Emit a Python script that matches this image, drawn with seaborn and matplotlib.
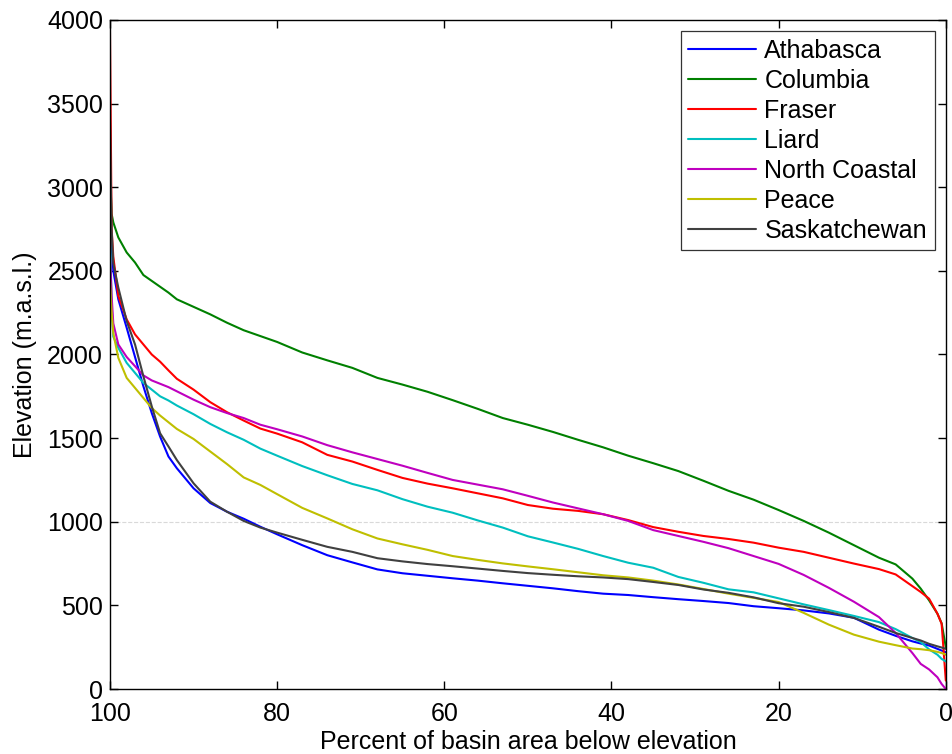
import matplotlib
matplotlib.use("Agg")
import matplotlib.pyplot as plt
import numpy as np
import pandas as pd
import seaborn as sns

# =========================================================
# Data
# =========================================================
pct = [100, 99.8, 99.6, 99, 98, 97, 96, 95, 94, 93, 92, 90, 88, 86, 84, 82, 80,
       77, 74, 71, 68, 65, 62, 59, 56, 53, 50, 47, 44, 41, 38, 35, 32, 29, 26,
       23, 20, 17, 14, 11, 8, 6, 4, 3, 2, 1, 0.5, 0]

athabasca = [3000, 2650, 2500, 2330, 2160, 1985, 1810, 1650, 1509, 1390, 1320,
             1200, 1112, 1060, 1018, 970, 925, 860, 800, 757, 715, 692, 677,
             662, 648, 632, 617, 602, 585, 570, 562, 549, 537, 526, 514, 495,
             483, 470, 452, 426, 355, 318, 285, 272, 260, 240, 230, 220]

columbia = [3100, 2840, 2790, 2700, 2610, 2550, 2475, 2440, 2405, 2370, 2330,
            2285, 2240, 2190, 2145, 2110, 2075, 2012, 1965, 1920, 1860, 1820,
            1777, 1727, 1675, 1620, 1580, 1537, 1490, 1445, 1395, 1350, 1303,
            1245, 1185, 1132, 1070, 1005, 935, 860, 785, 745, 660, 600, 530,
            450, 393, 250]

fraser = [3950, 2750, 2585, 2350, 2210, 2120, 2060, 2000, 1957, 1905, 1855,
          1790, 1715, 1655, 1605, 1557, 1527, 1475, 1400, 1360, 1310, 1262,
          1228, 1200, 1170, 1140, 1100, 1078, 1065, 1045, 1010, 968, 940, 915,
          897, 875, 845, 820, 785, 750, 717, 685, 615, 580, 540, 450, 390, 50]

liard = [2800, 2300, 2107, 2040, 1950, 1890, 1830, 1790, 1750, 1725, 1695,
         1643, 1585, 1535, 1490, 1437, 1395, 1333, 1278, 1226, 1188, 1135,
         1090, 1054, 1008, 965, 913, 876, 838, 795, 755, 725, 670, 635, 596,
         578, 542, 506, 472, 437, 400, 358, 305, 280, 237, 205, 180, 165]

north_coastal = [2600, 2350, 2186, 2060, 1985, 1930, 1875, 1845, 1825, 1805,
                 1780, 1730, 1685, 1650, 1620, 1580, 1553, 1510, 1458, 1415,
                 1375, 1335, 1292, 1250, 1222, 1194, 1155, 1115, 1080, 1045,
                 1005, 950, 915, 880, 842, 795, 748, 682, 605, 522, 430, 335,
                 215, 150, 117, 70, 30, 0]

peace = [2450, 2250, 2127, 1980, 1860, 1800, 1740, 1680, 1635, 1595, 1555,
         1495, 1420, 1345, 1265, 1220, 1165, 1083, 1020, 955, 900, 865, 832,
         795, 772, 751, 733, 716, 698, 680, 667, 648, 625, 598, 570, 545, 520,
         455, 385, 325, 283, 262, 242, 238, 232, 222, 215, 205]

saskatchewan = [3400, 2750, 2545, 2400, 2200, 2060, 1870, 1690, 1529, 1450,
                1369, 1230, 1120, 1060, 1005, 965, 935, 892, 850, 820, 782,
                763, 747, 734, 720, 706, 693, 683, 674, 667, 657, 640, 622,
                595, 575, 548, 513, 492, 460, 425, 372, 335, 305, 290, 270,
                255, 248, 240]

basins = ["Athabasca", "Columbia", "Fraser", "Liard", "North Coastal",
          "Peace", "Saskatchewan"]
series = [athabasca, columbia, fraser, liard, north_coastal, peace, saskatchewan]
colors = ["#0000ff", "#008000", "#ff0000", "#00bfbf", "#bf00bf", "#bfbf00",
          "#404040"]

df = pd.concat(
    [pd.DataFrame({"pct": pct, "elev": vals, "basin": name})
     for name, vals in zip(basins, series)],
    ignore_index=True)

# =========================================================
# Plot
# =========================================================
sns.set_theme(style="ticks")
plt.rcParams["font.family"] = ["Liberation Sans", "DejaVu Sans"]
plt.rcParams["text.color"] = "black"
plt.rcParams["axes.labelcolor"] = "black"

fig = plt.figure(figsize=(9.52, 7.54), dpi=100)
ax = fig.add_axes([0.1155, 0.0862, 0.878, 0.8873])

ax.axhline(1000, color="#d9d9d9", linestyle="--", linewidth=0.8, zorder=0)

sns.lineplot(data=df, x="pct", y="elev", hue="basin", hue_order=basins,
             palette=colors, estimator=None, linewidth=1.5, ax=ax)

ax.set_xlim(100, 0)
ax.set_ylim(0, 4000)
ax.set_xticks([100, 80, 60, 40, 20, 0])
ax.set_yticks(np.arange(0, 4001, 500))
ax.tick_params(direction="in", top=True, right=True, length=6, width=1,
               labelsize=18, colors="black")
ax.tick_params(axis="x", pad=9)
ax.tick_params(axis="y", pad=5)
for s in ax.spines.values():
    s.set_linewidth(1.0)
    s.set_color("black")

ax.set_xlabel("Percent of basin area below elevation", fontsize=18,
              labelpad=3, color="black")
ax.set_ylabel("Elevation (m.a.s.l.)", fontsize=18, labelpad=7, color="black")

leg = ax.legend(loc="upper right", fontsize=18, frameon=True, fancybox=False,
                handlelength=2.7, borderaxespad=0.45, labelspacing=0.24,
                handletextpad=0.35, borderpad=0.3)
leg.get_frame().set_edgecolor("#333333")
leg.get_frame().set_linewidth(0.9)
leg.get_frame().set_alpha(1)
for t in leg.get_texts():
    t.set_color("black")

fig.savefig("out.png", dpi=100)
plt.close(fig)
